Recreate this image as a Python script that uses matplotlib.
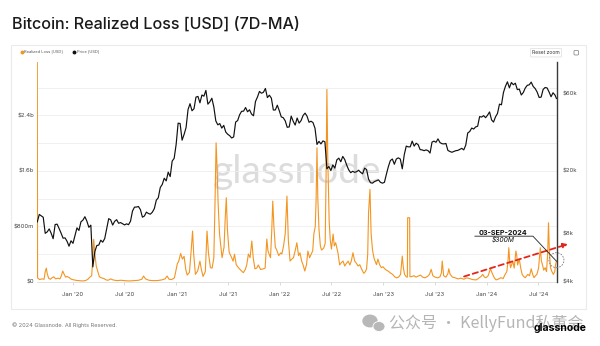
import matplotlib
matplotlib.use("Agg")
import matplotlib.pyplot as plt
import matplotlib.patches as mpatches
import matplotlib.transforms as mtransforms
import matplotlib.dates as mdates
from matplotlib.ticker import FixedLocator, MultipleLocator, NullLocator
import pandas as pd

plt.rcParams['font.family'] = ['Inter', 'DejaVu Sans']

# ---------------- data ----------------
# Realized loss, 7-day moving average, in millions of USD
loss_dates = [
    "2019-08-29", "2019-08-30", "2019-09-06", "2019-09-14", "2019-09-22", "2019-09-26", "2019-09-30",
    "2019-10-03", "2019-10-08", "2019-10-14", "2019-10-20", "2019-10-26", "2019-11-02", "2019-11-10",
    "2019-11-17", "2019-11-22", "2019-11-27", "2019-12-02", "2019-12-07", "2019-12-12", "2019-12-19",
    "2019-12-27", "2020-01-06", "2020-01-16", "2020-01-26", "2020-02-05", "2020-02-15", "2020-02-24",
    "2020-02-29", "2020-03-08", "2020-03-12", "2020-03-15", "2020-03-19", "2020-03-24", "2020-03-29",
    "2020-04-04", "2020-04-11", "2020-04-20", "2020-04-28", "2020-05-05", "2020-05-14", "2020-05-22",
    "2020-06-05", "2020-06-20", "2020-07-05", "2020-07-20", "2020-08-05", "2020-08-20", "2020-09-01",
    "2020-09-07", "2020-09-14", "2020-09-26", "2020-10-10", "2020-10-25", "2020-11-10", "2020-11-22",
    "2020-11-29", "2020-12-06", "2020-12-15", "2020-12-25", "2021-01-04", "2021-01-09", "2021-01-16",
    "2021-01-22", "2021-01-28", "2021-02-03", "2021-02-08", "2021-02-16", "2021-02-22", "2021-02-27",
    "2021-03-03", "2021-03-09", "2021-03-17", "2021-03-25", "2021-03-30", "2021-04-05", "2021-04-13",
    "2021-04-19", "2021-04-24", "2021-05-01", "2021-05-07", "2021-05-13", "2021-05-17", "2021-05-21",
    "2021-05-24", "2021-05-28", "2021-06-02", "2021-06-07", "2021-06-11", "2021-06-18", "2021-06-22",
    "2021-06-26", "2021-06-30", "2021-07-06", "2021-07-15", "2021-07-20", "2021-07-25", "2021-07-31",
    "2021-08-08", "2021-08-16", "2021-08-25", "2021-09-01", "2021-09-06", "2021-09-12", "2021-09-18",
    "2021-09-24", "2021-09-29", "2021-10-05", "2021-10-11", "2021-10-17", "2021-10-25", "2021-11-04",
    "2021-11-10", "2021-11-16", "2021-11-20", "2021-11-24", "2021-11-29", "2021-12-03", "2021-12-07",
    "2021-12-11", "2021-12-16", "2021-12-21", "2021-12-28", "2022-01-04", "2022-01-08", "2022-01-14",
    "2022-01-20", "2022-01-26", "2022-01-31", "2022-02-06", "2022-02-12", "2022-02-18", "2022-02-24",
    "2022-03-02", "2022-03-08", "2022-03-13", "2022-03-19", "2022-03-24", "2022-03-30", "2022-04-05",
    "2022-04-10", "2022-04-16", "2022-04-22", "2022-04-27", "2022-05-01", "2022-05-06", "2022-05-09",
    "2022-05-12", "2022-05-15", "2022-05-19", "2022-05-24", "2022-05-28", "2022-06-05", "2022-06-10",
    "2022-06-13", "2022-06-16", "2022-06-19", "2022-06-24", "2022-06-28", "2022-07-02", "2022-07-08",
    "2022-07-12", "2022-07-17", "2022-07-25", "2022-07-31", "2022-08-06", "2022-08-12", "2022-08-18",
    "2022-08-24", "2022-08-30", "2022-09-05", "2022-09-10", "2022-09-16", "2022-09-22", "2022-09-28",
    "2022-10-04", "2022-10-10", "2022-10-16", "2022-10-24", "2022-10-30", "2022-11-03", "2022-11-07",
    "2022-11-10", "2022-11-15", "2022-11-19", "2022-11-24", "2022-11-29", "2022-12-03", "2022-12-08",
    "2022-12-13", "2022-12-19", "2022-12-25", "2022-12-31", "2023-01-06", "2023-01-12", "2023-01-18",
    "2023-01-26", "2023-02-03", "2023-02-10", "2023-02-17", "2023-02-24", "2023-03-03", "2023-03-06",
    "2023-03-09", "2023-03-13", "2023-03-17", "2023-03-23", "2023-03-27", "2023-03-28", "2023-04-04",
    "2023-04-05", "2023-04-12", "2023-04-20", "2023-04-26", "2023-05-04", "2023-05-12", "2023-05-20",
    "2023-05-28", "2023-06-06", "2023-06-13", "2023-06-19", "2023-06-25", "2023-07-03", "2023-07-12",
    "2023-07-20", "2023-07-25", "2023-07-28", "2023-08-02", "2023-08-10", "2023-08-17", "2023-08-20",
    "2023-08-25", "2023-09-02", "2023-09-12", "2023-09-22", "2023-10-02", "2023-10-12", "2023-10-22",
    "2023-11-01", "2023-11-12", "2023-11-24", "2023-12-01", "2023-12-06", "2023-12-12", "2023-12-18",
    "2023-12-24", "2023-12-30", "2024-01-06", "2024-01-14", "2024-01-18", "2024-01-22", "2024-01-28",
    "2024-02-03", "2024-02-10", "2024-02-20", "2024-02-28", "2024-03-06", "2024-03-12", "2024-03-16",
    "2024-03-19", "2024-03-22", "2024-03-25", "2024-03-29", "2024-04-02", "2024-04-07", "2024-04-13",
    "2024-04-16", "2024-04-19", "2024-04-25", "2024-04-30", "2024-05-05", "2024-05-10", "2024-05-16",
    "2024-05-25", "2024-05-31", "2024-06-06", "2024-06-11", "2024-06-16", "2024-06-21", "2024-06-26",
    "2024-07-02", "2024-07-05", "2024-07-08", "2024-07-12", "2024-07-16", "2024-07-20", "2024-07-25",
    "2024-07-30", "2024-08-03", "2024-08-06", "2024-08-09", "2024-08-13", "2024-08-18", "2024-08-23",
    "2024-08-28", "2024-08-31", "2024-09-03",
]
loss_musd = [
    3400, 60, 35, 45, 40, 150, 200,
    120, 55, 40, 60, 75, 45, 55,
    45, 90, 158, 110, 70, 80, 65,
    40, 30, 22, 18, 15, 20, 40,
    65, 90, 350, 615, 420, 230, 160,
    75, 60, 50, 30, 25, 45, 30,
    20, 25, 18, 15, 20, 25, 40,
    86, 45, 25, 20, 20, 30, 45,
    86, 40, 35, 60, 260, 300, 410,
    330, 370, 180, 100, 140, 450, 734,
    400, 110, 160, 300, 180, 80, 150,
    734, 420, 206, 200, 350, 1100, 2006,
    1700, 1150, 700, 500, 350, 500, 900,
    1214, 750, 430, 350, 300, 400, 250,
    206, 170, 134, 180, 245, 403, 350,
    590, 350, 190, 200, 245, 180, 190,
    200, 619, 450, 403, 350, 700, 1166,
    800, 500, 460, 380, 420, 403, 518,
    700, 1238, 600, 302, 330, 350, 450,
    566, 380, 420, 300, 245, 158, 250,
    446, 350, 403, 450, 691, 800, 1200,
    1934, 1200, 763, 520, 460, 490, 560,
    1500, 2775, 1800, 878, 600, 475, 691,
    520, 566, 420, 245, 280, 302, 230,
    270, 300, 245, 300, 422, 302, 270,
    230, 250, 190, 125, 150, 190, 400,
    1000, 1335, 700, 460, 350, 302, 250,
    330, 250, 206, 220, 190, 170, 158,
    130, 110, 75, 60, 70, 110, 250,
    374, 200, 110, 75, 70, 926, 926,
    75, 80, 90, 70, 85, 100, 70,
    60, 80, 110, 182, 90, 70, 60,
    75, 130, 302, 90, 70, 120, 190,
    110, 70, 60, 45, 55, 40, 60,
    50, 35, 30, 45, 62, 80, 110,
    70, 62, 90, 190, 150, 110, 60,
    30, 40, 62, 50, 110, 150, 300,
    494, 300, 206, 250, 302, 200, 446,
    380, 245, 330, 200, 110, 80, 62,
    110, 90, 190, 110, 62, 90, 110,
    200, 350, 494, 300, 245, 170, 206,
    150, 400, 854, 450, 206, 150, 110,
    150, 250, 300,
]

# BTC price (USD), weekly closes grouped by year
price_2019 = [9500, 10580, 10360, 10160, 8060, 8230, 8590, 8070, 7460, 9150, 9200, 8640, 8080,
              7520, 7550, 7190, 6700, 7240]
price_2020 = [6980, 7820, 8720, 8400, 9510, 9750, 10240, 9610, 8790, 9070, 4970, 6190, 6760,
              6810, 7300, 7100, 7480, 8660, 9960, 9790, 9080, 9580, 9810, 9320, 9410, 9250,
              9100, 9240, 9130, 9600, 11110, 11750, 11770, 11860, 11330, 10170, 10340, 10940,
              10730, 10620, 10930, 11500, 12990, 13460, 15590, 16300, 17820, 17150, 19450,
              18250, 22800, 23730, 29000]
price_2021 = [39370, 39190, 30830, 33470, 36930, 47910, 52120, 47090, 48470, 57330, 57860, 52770,
              59060, 58080, 63110, 51760, 53560, 56400, 49720, 40680, 38440, 39140, 36680, 38140,
              34680, 33570, 32880, 31800, 32310, 40010, 40870, 44430, 46720, 46810, 49330, 46400,
              47750, 44900, 43790, 53800, 57400, 62200, 60600, 61400, 64900, 56900, 58900, 56500,
              47600, 47600, 51000, 47100]
price_2022 = [43100, 42600, 40700, 37100, 37300, 43600, 40500, 38300, 42400, 39400, 40900, 44000,
              45500, 43500, 39900, 40500, 39700, 36600, 29000, 30300, 29200, 30500, 30100, 20400,
              21100, 19900, 21600, 20600, 23200, 23800, 22600, 24400, 23300, 21500, 20100, 19300,
              19700, 19400, 19600, 20000, 19400, 19000, 20600, 20200, 17600, 16700, 16600, 17000,
              17200, 17400, 16800, 16600]
price_2023 = [16800, 18900, 21100, 23000, 23500, 21800, 23500, 23900, 23500, 20400, 25000, 28300,
              28000, 28000, 30400, 28300, 29500, 28900, 26900, 26800, 26500, 26800, 26500, 25600,
              30000, 30400, 29900, 31400, 29800, 29300, 29200, 29400, 26600, 26200, 25900, 26200,
              26500, 26600, 27000, 27400, 26800, 28700, 34200, 34900, 36700, 36200, 37300, 37700,
              43300, 43000, 43900, 42600]
price_2024 = [44200, 46300, 41300, 40000, 43100, 45300, 51800, 51300, 61200, 66900, 71400, 65500,
              70700, 68500, 70000, 63800, 64300, 59100, 61200, 65300, 67900, 68400, 71100, 66800,
              64800, 61600, 57000, 57300, 64000, 65800, 65400, 61700, 57600, 61000, 59000]
price_year_starts = ["2019-08-29", "2020-01-02", "2021-01-07", "2022-01-06", "2023-01-05", "2024-01-04"]
price_last_date = "2024-09-03"
price_last = 56200

left_ticks = [0, 800e6, 1.6e9, 2.4e9]
left_labels = ["$0", "$800m", "$1.6b", "$2.4b"]
right_ticks = [4000, 8000, 20000, 60000]
right_labels = ["$4k", "$8k", "$20k", "$60k"]
x_ticks = ["2020-01-01", "2020-07-01", "2021-01-01", "2021-07-01", "2022-01-01",
           "2022-07-01", "2023-01-01", "2023-07-01", "2024-01-01", "2024-07-01"]
x_labels = ["Jan '20", "Jul '20", "Jan '21", "Jul '21", "Jan '22",
            "Jul '22", "Jan '23", "Jul '23", "Jan '24", "Jul '24"]

callout_date = "2024-09-03"
callout_value = 300e6
trend_start = ("2023-10-13", 79e6)
trend_end = ("2024-10-14", 547e6)

# ---------------- series assembly ----------------
loss_x = pd.to_datetime(loss_dates)
loss_y = [v * 1e6 for v in loss_musd]

price_x, price_y = [], []
for start, vals in zip(price_year_starts, [price_2019, price_2020, price_2021,
                                           price_2022, price_2023, price_2024]):
    price_x.extend(pd.date_range(start, periods=len(vals), freq="7D"))
    price_y.extend(vals)
price_x.append(pd.Timestamp(price_last_date))
price_y.append(price_last)

# ---------------- figure ----------------
W, H = 600, 346
fig = plt.figure(figsize=(6, 3.46), dpi=100)
fig.patch.set_facecolor("white")


def fx(px):
    return px / W


def fy(py):
    return 1 - py / H


# card outline (behind everything)
fig.patches.append(mpatches.Rectangle((fx(11), fy(309)), fx(586) - fx(11), fy(45) - fy(309),
                                      transform=fig.transFigure, facecolor="none",
                                      edgecolor="#ebebeb", lw=0.8, zorder=-5))

ax = fig.add_axes([fx(37), fy(282), fx(557) - fx(37), fy(62) - fy(282)])
ax.set_facecolor("none")
ax2 = ax.twinx()

# background wordmark
ax.text(0.5, 0.5, "glassnode", transform=ax.transAxes, ha="center", va="center",
        fontsize=28, color="#dcdcdc", zorder=0, family=["Lato", "DejaVu Sans"])

ax.plot(loss_x, loss_y, color="#f39521", lw=0.8, zorder=3, solid_joinstyle="round")
ax2.plot(price_x, price_y, color="#111111", lw=0.85, zorder=3)

ax.set_xlim(pd.Timestamp("2019-08-28"), pd.Timestamp("2024-09-05"))
ax.set_ylim(0, 3.17e9)
ax2.set_yscale("log")
ax2.set_ylim(4000, 95000)

ax.yaxis.set_major_locator(FixedLocator(left_ticks))
ax.set_yticklabels(left_labels)
ax.yaxis.set_minor_locator(MultipleLocator(4e8))
ax.grid(axis="y", which="both", color="#eeeeee", lw=0.6, zorder=0)
ax.set_axisbelow(True)
ax.tick_params(axis="y", which="both", length=0, pad=2, labelsize=4.3, labelcolor="#444444")

ax.set_xticks(pd.to_datetime(x_ticks))
ax.set_xticklabels(x_labels)
ax.tick_params(axis="x", length=2.5, width=0.5, color="#cccccc", pad=5,
               labelsize=4.3, labelcolor="#444444")

ax2.yaxis.set_major_locator(FixedLocator(right_ticks))
ax2.yaxis.set_minor_locator(NullLocator())
ax2.set_yticklabels(right_labels)
ax2.tick_params(axis="y", which="both", length=0, pad=4, labelsize=4.3, labelcolor="#444444")

for s in ("top", "left", "right"):
    ax.spines[s].set_visible(False)
ax.spines["bottom"].set_color("#dddddd")
ax.spines["bottom"].set_linewidth(0.6)
for s in ("top", "left", "bottom"):
    ax2.spines[s].set_visible(False)
ax2.spines["right"].set_color("#3a3a3a")
ax2.spines["right"].set_linewidth(1.0)

# ---------------- callout ----------------
fig.canvas.draw()
cx = mdates.date2num(pd.Timestamp(callout_date))
px, py = ax.transData.transform((cx, callout_value))
ident = mtransforms.IdentityTransform()
knee = (px - 23.5, py + 25)
tail = (px - 81.5, py + 25)
fig.add_artist(plt.Line2D([tail[0], knee[0], px], [tail[1], knee[1], py], transform=ident,
                          color="#222222", lw=0.6, zorder=6))
fig.add_artist(mpatches.Circle((px, py + 1), 7.5, transform=ident, fill=False,
                               edgecolor="#777777", lw=0.6, linestyle=(0, (2, 1.5)), zorder=6))
fig.text((px - 53) / W, (py + 28) / H, "03-SEP-2024", ha="center", va="center",
         fontsize=5.2, fontweight="bold", color="#111111")
fig.text((px - 53) / W, (py + 21.5) / H, "$300M", ha="center", va="center",
         fontsize=4.8, style="italic", color="#111111")

ts = (mdates.date2num(pd.Timestamp(trend_start[0])), trend_start[1])
te = (mdates.date2num(pd.Timestamp(trend_end[0])), trend_end[1])
ax.annotate("", xy=te, xytext=ts, annotation_clip=False, zorder=7,
            arrowprops=dict(arrowstyle="-|>", color="#e3261c", lw=1.3,
                            linestyle=(0, (3, 2)), mutation_scale=7,
                            shrinkA=0, shrinkB=0))

# ---------------- page text ----------------
fig.text(fx(12), fy(28.3), "Bitcoin: Realized Loss [USD] (7D-MA)", ha="left", va="baseline",
         fontsize=11.6, fontweight="medium", color="#1a1a1a")

fig.add_artist(plt.Line2D([fx(21.7)], [fy(51.7)], marker="o", markersize=1.8, color="#f39521",
                          transform=fig.transFigure))
fig.text(fx(24.5), fy(51.7), "Realized Loss [USD]", ha="left", va="center", fontsize=2.9,
         color="#555555")
fig.add_artist(plt.Line2D([fx(74)], [fy(51.7)], marker="o", markersize=1.8, color="#111111",
                          transform=fig.transFigure))
fig.text(fx(76.8), fy(51.7), "Price [USD]", ha="left", va="center", fontsize=2.9,
         color="#555555")

fig.text(fx(546), fy(52.7), "Reset zoom", ha="center", va="center", fontsize=3.6, color="#333333",
         bbox=dict(boxstyle="round,pad=0.35,rounding_size=0.2", fc="white", ec="#dddddd", lw=0.5))
fig.patches.append(mpatches.FancyBboxPatch((fx(574), fy(55)), fx(4.5) - fx(0), fy(0) - fy(4.5),
                                           boxstyle="round,pad=0,rounding_size=0.002",
                                           transform=fig.transFigure, fill=False,
                                           ec="#777777", lw=0.5))

fig.text(fx(12), fy(325), "© 2024 Glassnode. All Rights Reserved.", ha="left", va="center",
         fontsize=4.0, color="#777777")

# chat-app badge and channel name
fig.patches.append(mpatches.Ellipse((fx(370), fy(321)), fx(14), fy(0) - fy(11.5),
                                    transform=fig.transFigure, color="#b8b8b8"))
fig.patches.append(mpatches.Ellipse((fx(379), fy(326.5)), fx(12), fy(0) - fy(10),
                                    transform=fig.transFigure, color="#b8b8b8", ec="white", lw=0.6))
fig.text(fx(389), fy(323), "公众号 · KellyFund私董会", ha="left", va="center", fontsize=11.5,
         color="#b5b5b5", family=["Noto Sans CJK SC", "DejaVu Sans"])
fig.text(fx(587), fy(328), "glassnode", ha="right", va="center", fontsize=7.5,
         fontweight="bold", color="#000000")

fig.savefig("out.png", dpi=100, facecolor="white")
